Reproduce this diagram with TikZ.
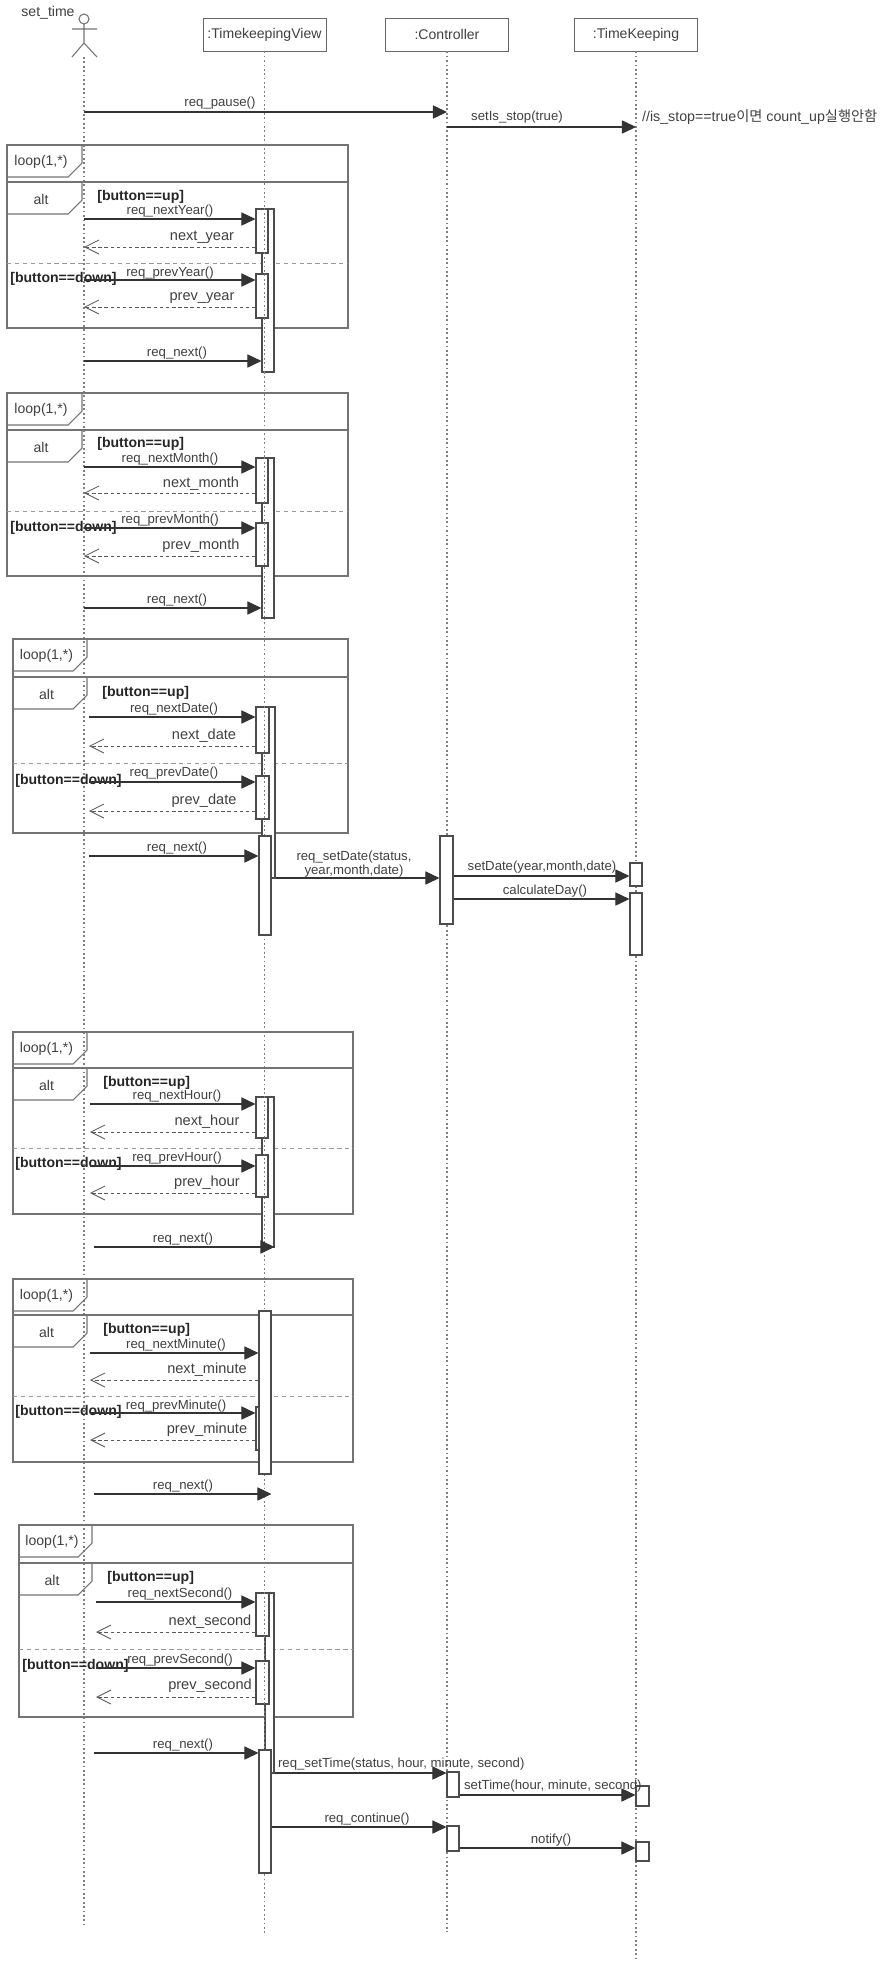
\documentclass[tikz,border=0pt]{standalone}
\usepackage{fontspec}
\setmainfont{Liberation Sans}
\newfontfamily\krfont{Noto Sans CJK KR}
\usetikzlibrary{arrows.meta,fit,positioning}
\tikzset{%
	lifeline/.style = {draw=gray, dash pattern=on 1pt off 1.5pt, line width=0.6pt},
	headbox/.style  = {draw=gray!80!black, rectangle, minimum width=2.46cm, minimum height=0.66cm, inner sep=0pt, font=\fontsize{8}{9}\selectfont, text=black!75},
	actbox/.style   = {draw=gray!60!black, fill=white, rectangle, inner sep=0pt, line width=0.6pt},
	frame/.style    = {draw=gray!90!black, line width=0.6pt},
	sep/.style      = {draw=gray!80, dash pattern=on 2.5pt off 2pt, line width=0.5pt},
	msg/.style      = {draw=black!80, line width=0.6pt, -{Triangle[length=8pt,width=7.5pt]}},
	reply/.style    = {draw=black!65, line width=0.5pt, dash pattern=on 2pt off 1.5pt, -{Straight Barb[length=8pt,width=8pt]}},
	lbl/.style      = {font=\fontsize{7.5}{8}\selectfont, text=black!75, inner sep=1pt},
	rlbl/.style     = {font=\fontsize{8.3}{10}\selectfont, text=black!75, inner sep=1pt},
	guard/.style    = {font=\bfseries\fontsize{8}{9}\selectfont, text=black!85, inner sep=0pt, anchor=west},
}
% fragment tab: name, left x, top y, right x, text
\newcommand{\fragtab}[5]{%
	\draw[frame] (#2,#3) -- (#4,#3) -- (#4,#3+18) -- (#4-14,#3+32) -- (#2,#3+32);
	\node[lbl, font=\fontsize{8}{9}\selectfont] (#1) at ({(#2+#4-7)/2},#3+17) {#5};}

\begin{document}
\begin{tikzpicture}[x=0.02cm, y=-0.02cm]
	\useasboundingbox (0,0) rectangle (889,1961);
	% heads
	\coordinate (actor) at (84,57);
	\node[lbl, font=\fontsize{8}{9}\selectfont] (actorname) at (48,13) {set\_time};
	\draw[frame] (84,19) circle (0.1cm);
	\draw[frame] (84,24) -- (84,43) (72,29) -- (97,29) (72,57) -- (84,43) -- (97,57);
	\node[headbox] (tkv) at (264.5,34.5) {:TimekeepingView};
	\node[headbox] (ctrl) at (447,34.5) {:Controller};
	\node[headbox] (tk) at (636,34.5) {:TimeKeeping};
	\draw[lifeline] (actor) -- (actor |- 0,1925);
	\draw[lifeline] (tkv) -- (tkv |- 0,1935);
	\draw[lifeline] (ctrl) -- (ctrl |- 0,1932);
	\draw[lifeline] (tk) -- (tk |- 0,1961);

	% pause
	\draw[msg] (actor |- 0,112) -- (ctrl |- 0,112);
	\node[lbl] (pause) at (220,103) {req\_pause()};
	\draw[msg] (ctrl |- 0,127) -- (tk |- 0,127);
	\node[lbl] (stop) at (517,117) {setIs\_stop(true)};
	\node[rlbl, anchor=west, font=\fontsize{8.1}{10}\selectfont] (note) at (640,117) {//is\_stop==true{\krfont 이면} count\_up{\krfont 실행안함}};

	% year
	\draw[frame] (7,145) rectangle (348,328);
	\fragtab{loopA}{7}{145}{82}{loop(1,*)}
	\draw[frame] (7,182) -- (348,182);
	\fragtab{altA}{7}{182}{82}{alt}
	\draw[sep] (7,263) -- (348,263);
	\node[guard] (upA) at (97,197) {[button==up]};
	\node[guard] (downA) at (10,279) {[button==down]};
	\node[actbox, fit={(262,209) (274,372)}] (vA) {};
	\node[actbox, fit={(256,209) (268,253)}] (vA1) {};
	\node[actbox, fit={(256,274) (268,318)}] (vA2) {};
	\draw[lifeline] (tkv |- vA.north) -- (tkv |- vA.south);
	\draw[msg] (actor |- 0,219) -- (vA1.west |- 0,219);
	\node[lbl] (mA1) at (170,211) {req\_nextYear()};
	\draw[reply] (vA1.west |- 0,247) -- (actor |- 0,247);
	\node[rlbl] (rA1) at (202,237) {next\_year};
	\draw[msg] (actor |- 0,280) -- (vA2.west |- 0,280);
	\node[lbl] (mA2) at (170,273) {req\_prevYear()};
	\draw[reply] (vA2.west |- 0,307) -- (actor |- 0,307);
	\node[rlbl] (rA2) at (202,298) {prev\_year};
	\draw[msg] (actor |- 0,361) -- (vA.west |- 0,361);
	\node[lbl] (nA) at (177,353) {req\_next()};

	% month
	\draw[frame] (7,393) rectangle (348,576);
	\fragtab{loopB}{7}{393}{82}{loop(1,*)}
	\draw[frame] (7,430) -- (348,430);
	\fragtab{altB}{7}{430}{82}{alt}
	\draw[sep] (7,511) -- (348,511);
	\node[guard] (upB) at (97,444) {[button==up]};
	\node[guard] (downB) at (10,528) {[button==down]};
	\node[actbox, fit={(262,458) (274,618)}] (vB) {};
	\node[actbox, fit={(256,458) (268,503)}] (vB1) {};
	\node[actbox, fit={(256,523) (268,566)}] (vB2) {};
	\draw[lifeline] (tkv |- vB.north) -- (tkv |- vB.south);
	\draw[msg] (actor |- 0,467) -- (vB1.west |- 0,467);
	\node[lbl] (mB1) at (170,459) {req\_nextMonth()};
	\draw[reply] (vB1.west |- 0,493) -- (actor |- 0,493);
	\node[rlbl] (rB1) at (201,484) {next\_month};
	\draw[msg] (actor |- 0,528) -- (vB2.west |- 0,528);
	\node[lbl] (mB2) at (170,520) {req\_prevMonth()};
	\draw[reply] (vB2.west |- 0,556) -- (actor |- 0,556);
	\node[rlbl] (rB2) at (201,546) {prev\_month};
	\draw[msg] (actor |- 0,608) -- (vB.west |- 0,608);
	\node[lbl] (nB) at (177,600) {req\_next()};

	% date
	\draw[frame] (13,639) rectangle (348,833);
	\fragtab{loopC}{13}{639}{87}{loop(1,*)}
	\draw[frame] (13,677) -- (348,677);
	\fragtab{altC}{13}{677}{87}{alt}
	\draw[sep] (13,763) -- (348,763);
	\node[guard] (upC) at (102,693) {[button==up]};
	\node[guard] (downC) at (15,781) {[button==down]};
	\node[actbox, fit={(262,707) (275,878)}] (vC) {};
	\node[actbox, fit={(256,707) (269,753)}] (vC1) {};
	\node[actbox, fit={(256,776) (269,819)}] (vC2) {};
	\draw[lifeline] (tkv |- vC.north) -- (tkv |- vC.south);
	\node[actbox, fit={(259,836) (271,935)}] (vD) {};
	\draw[msg, shorten <=0.1cm] (actor |- 0,717) -- (vC1.west |- 0,717);
	\node[lbl] (mC1) at (174,709) {req\_nextDate()};
	\draw[reply, shorten >=0.1cm] (vC1.west |- 0,746) -- (actor |- 0,746);
	\node[rlbl] (rC1) at (204,736) {next\_date};
	\draw[msg, shorten <=0.1cm] (actor |- 0,782) -- (vC2.west |- 0,782);
	\node[lbl] (mC2) at (174,773) {req\_prevDate()};
	\draw[reply, shorten >=0.1cm] (vC2.west |- 0,811) -- (actor |- 0,811);
	\node[rlbl] (rC2) at (204,801) {prev\_date};
	\draw[msg, shorten <=0.1cm] (actor |- 0,856) -- (vD.west |- 0,856);
	\node[lbl] (nC) at (177,848) {req\_next()};
	\node[actbox, fit={(440,836) (453,924)}] (wA) {};
	\node[actbox, fit={(630,863) (642,886)}] (kA) {};
	\node[actbox, fit={(630,893) (642,955)}] (kB) {};
	\draw[msg] (vC.east |- 0,878) -- (wA.west |- 0,878);
	\node[lbl, align=center] (setdate) at (354,864) {req\_setDate(status,\\year,month,date)};
	\draw[msg] (wA.east |- 0,876) -- (kA.west |- 0,876);
	\node[lbl] (tkdate) at (542,867) {setDate(year,month,date)};
	\draw[msg] (wA.east |- 0,899) -- (kB.west |- 0,899);
	\node[lbl] (calc) at (545,891) {calculateDay()};

	% hour
	\draw[frame] (13,1032) rectangle (353,1214);
	\fragtab{loopE}{13}{1032}{87}{loop(1,*)}
	\draw[frame] (13,1068) -- (353,1068);
	\fragtab{altE}{13}{1068}{87}{alt}
	\draw[sep] (13,1148) -- (353,1148);
	\node[guard] (upE) at (103,1083) {[button==up]};
	\node[guard] (downE) at (15,1164) {[button==down]};
	\node[actbox, fit={(262,1097) (274,1247)}] (vE) {};
	\node[actbox, fit={(256,1097) (268,1138)}] (vE1) {};
	\node[actbox, fit={(256,1155) (268,1197)}] (vE2) {};
	\draw[lifeline] (tkv |- vE.north) -- (tkv |- vE.south);
	\draw[msg, shorten <=0.12cm] (actor |- 0,1104) -- (vE1.west |- 0,1104);
	\node[lbl] (mE1) at (177,1096) {req\_nextHour()};
	\draw[reply, shorten >=0.12cm] (vE1.west |- 0,1132) -- (actor |- 0,1132);
	\node[rlbl] (rE1) at (207,1122) {next\_hour};
	\draw[msg, shorten <=0.12cm] (actor |- 0,1166) -- (vE2.west |- 0,1166);
	\node[lbl] (mE2) at (177,1158) {req\_prevHour()};
	\draw[reply, shorten >=0.12cm] (vE2.west |- 0,1193) -- (actor |- 0,1193);
	\node[rlbl] (rE2) at (207,1183) {prev\_hour};
	\draw[msg, shorten <=0.2cm] (actor |- 0,1247) -- (vE.east |- 0,1247);
	\node[lbl] (nE) at (183,1239) {req\_next()};

	% minute
	\draw[frame] (13,1279) rectangle (353,1462);
	\fragtab{loopF}{13}{1279}{87}{loop(1,*)}
	\draw[frame] (13,1315) -- (353,1315);
	\fragtab{altF}{13}{1315}{87}{alt}
	\draw[sep] (13,1396) -- (353,1396);
	\node[guard] (upF) at (103,1330) {[button==up]};
	\node[guard] (downF) at (15,1412) {[button==down]};
	\node[actbox, fit={(256,1407) (266,1450)}] (vF0) {};
	\node[actbox, fit={(259,1311) (271,1474)}] (vF) {};
	\draw[msg, shorten <=0.12cm] (actor |- 0,1353) -- (vF.west |- 0,1353);
	\node[lbl] (mF1) at (176,1345) {req\_nextMinute()};
	\draw[reply, shorten >=0.12cm] (vF.west |- 0,1380) -- (actor |- 0,1380);
	\node[rlbl] (rF1) at (207,1370) {next\_minute};
	\draw[msg, shorten <=0.12cm] (actor |- 0,1413) -- (vF0.west |- 0,1413);
	\node[lbl] (mF2) at (176,1406) {req\_prevMinute()};
	\draw[reply, shorten >=0.12cm] (vF0.west |- 0,1440) -- (actor |- 0,1440);
	\node[rlbl] (rF2) at (207,1430) {prev\_minute};
	\draw[msg, shorten <=0.2cm, shorten >=-0.14cm] (actor |- 0,1494) -- (tkv |- 0,1494);
	\node[lbl] (nF) at (183,1486) {req\_next()};

	% second
	\draw[frame] (19,1525) rectangle (353,1717);
	\fragtab{loopG}{19}{1525}{92}{loop(1,*)}
	\draw[frame] (19,1563) -- (353,1563);
	\fragtab{altG}{19}{1563}{92}{alt}
	\draw[sep] (19,1649) -- (353,1649);
	\node[guard] (upG) at (107,1578) {[button==up]};
	\node[guard] (downG) at (22,1666) {[button==down]};
	\node[actbox, fit={(265,1593) (274,1773)}] (vG) {};
	\node[actbox, fit={(256,1593) (269,1636)}] (vG1) {};
	\node[actbox, fit={(256,1661) (269,1704)}] (vG2) {};
	\draw[lifeline] (tkv |- vG.north) -- (tkv |- vG.south);
	\node[actbox, fit={(259,1750) (271,1873)}] (vH) {};
	\draw[msg, shorten <=0.24cm] (actor |- 0,1602) -- (vG1.west |- 0,1602);
	\node[lbl] (mG1) at (180,1594) {req\_nextSecond()};
	\draw[reply, shorten >=0.24cm] (vG1.west |- 0,1632) -- (actor |- 0,1632);
	\node[rlbl] (rG1) at (210,1622) {next\_second};
	\draw[msg, shorten <=0.24cm] (actor |- 0,1668) -- (vG2.west |- 0,1668);
	\node[lbl] (mG2) at (180,1660) {req\_prevSecond()};
	\draw[reply, shorten >=0.24cm] (vG2.west |- 0,1697) -- (actor |- 0,1697);
	\node[rlbl] (rG2) at (210,1686) {prev\_second};
	\draw[msg, shorten <=0.2cm] (actor |- 0,1753) -- (vH.west |- 0,1753);
	\node[lbl] (nG) at (183,1745) {req\_next()};
	\node[actbox, fit={(447,1772) (459,1797)}] (wB) {};
	\node[actbox, fit={(447,1826) (459,1851)}] (wC) {};
	\node[actbox, fit={(636,1786) (649,1806)}] (kC) {};
	\node[actbox, fit={(636,1842) (649,1861)}] (kD) {};
	\draw[msg] (vG.east |- 0,1773) -- (wB.west |- 0,1773);
	\node[lbl, anchor=west] (settime) at (276,1764) {req\_setTime(status, hour, minute, second)};
	\draw[msg] (wB.east |- 0,1795) -- (kC.west |- 0,1795);
	\node[lbl, anchor=west] (tktime) at (462,1786) {setTime(hour, minute, second)};
	\draw[msg] (vH.east |- 0,1827) -- (wC.west |- 0,1827);
	\node[lbl] (cont) at (367,1819) {req\_continue()};
	\draw[msg] (wC.east |- 0,1848) -- (kD.west |- 0,1848);
	\node[lbl] (notify) at (551,1840) {notify()};
\end{tikzpicture}
\end{document}
